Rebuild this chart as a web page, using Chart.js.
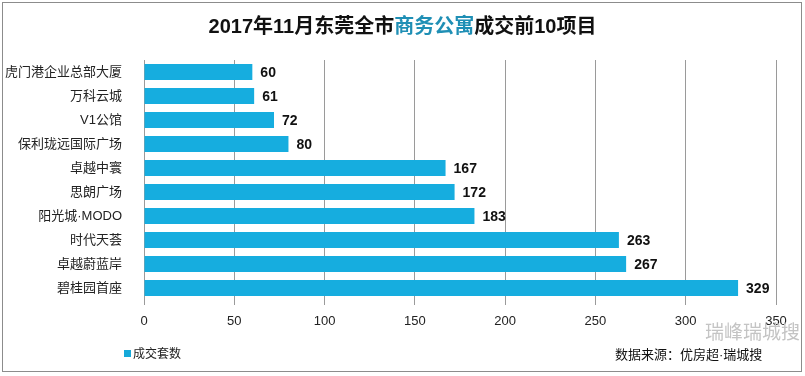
<!DOCTYPE html>
<html>
<head>
<meta charset="utf-8">
<script src="https://cdn.jsdelivr.net/npm/chart.js@4/dist/chart.umd.min.js"></script>
<style>
  html, body { margin: 0; padding: 0; background: #fff; }
  #wrap { position: relative; width: 805px; height: 376px; overflow: hidden; font-family: "Liberation Sans", "Noto Sans CJK SC", sans-serif; }
  #frame { position: absolute; left: 2px; top: 2px; width: 800px; height: 370px; border: 1px solid #8c8c8c; box-sizing: border-box; pointer-events: none; }
  #title { position: absolute; left: 0; width: 805px; top: 12px; text-align: center; font-size: 20px; font-weight: bold; color: #111; line-height: 28px; white-space: nowrap; }
  #title .hl { color: #1f8fb5; }
  #legend { position: absolute; left: 124px; top: 346px; font-size: 12px; color: #222; line-height: 16px; white-space: nowrap; }
  #legend .sw { display: inline-block; width: 7px; height: 7px; background: #16a9d9; margin-right: 2px; vertical-align: 1px; }
  #source { position: absolute; left: 615px; top: 346px; font-size: 13px; color: #111; line-height: 18px; white-space: nowrap; }
  #wm { position: absolute; left: 705px; top: 322px; font-size: 19px; color: #c4c4c4; line-height: 22px; white-space: nowrap; }
  canvas { position: absolute; left: 0; top: 0; }
</style>
</head>
<body>
<div id="wrap">
  <canvas id="c" width="805" height="376"></canvas>
  <div id="title">2017年11月东莞全市<span class="hl">商务公寓</span>成交前10项目</div>
  <div id="wm">瑞峰瑞城搜</div>
  <div id="legend"><span class="sw"></span>成交套数</div>
  <div id="source">数据来源：优房超·瑞城搜</div>
  <div id="frame"></div>
</div>
<script>
const categories = ["虎门港企业总部大厦", "万科云城", "V1公馆", "保利珑远国际广场", "卓越中寰", "思朗广场", "阳光城·MODO", "时代天荟", "卓越蔚蓝岸", "碧桂园首座"];
const seriesName = "成交套数";
const values = [60, 61, 72, 80, 167, 172, 183, 263, 267, 329];
const xTicks = [0, 50, 100, 150, 200, 250, 300, 350];

const labelPlugin = {
  id: 'valueLabels',
  afterDatasetsDraw(chart) {
    const ctx = chart.ctx;
    const meta = chart.getDatasetMeta(0);
    ctx.save();
    ctx.font = 'bold 14px "Liberation Sans", "DejaVu Sans", sans-serif';
    ctx.fillStyle = '#111';
    ctx.textAlign = 'left';
    ctx.textBaseline = 'middle';
    meta.data.forEach((bar, i) => {
      ctx.fillText(String(values[i]), bar.x + 8, bar.y + 1);
    });
    ctx.restore();
  }
};

const axisFont = { size: 13, family: '"Liberation Sans", "Noto Sans CJK SC", sans-serif' };

new Chart(document.getElementById('c'), {
  type: 'bar',
  data: {
    labels: categories,
    datasets: [{
      label: seriesName,
      data: values,
      backgroundColor: '#16addf',
      borderWidth: 0,
      barPercentage: 0.66,
      categoryPercentage: 1.0
    }]
  },
  options: {
    indexAxis: 'y',
    responsive: false,
    animation: false,
    devicePixelRatio: 1,
    layout: { padding: { left: 0, right: 29, top: 60, bottom: 46 } },
    plugins: {
      legend: { display: false },
      title: { display: false },
      tooltip: { enabled: false }
    },
    scales: {
      x: {
        min: 0, max: 350,
        afterBuildTicks(axis) { axis.ticks = xTicks.map(v => ({ value: v })); },
        afterFit(axis) { axis.height = 30; },
        grid: { color: '#9a9a9a', lineWidth: 1, drawTicks: true, tickLength: 5, tickColor: '#9a9a9a' },
        border: { display: false },
        ticks: { color: '#222', font: axisFont, padding: 9, maxRotation: 0 }
      },
      y: {
        afterFit(axis) { axis.width = 144; },
        grid: { display: false },
        border: { display: false },
        ticks: { color: '#222', font: axisFont, padding: 14 }
      }
    }
  },
  plugins: [labelPlugin]
});
</script>
</body>
</html>
